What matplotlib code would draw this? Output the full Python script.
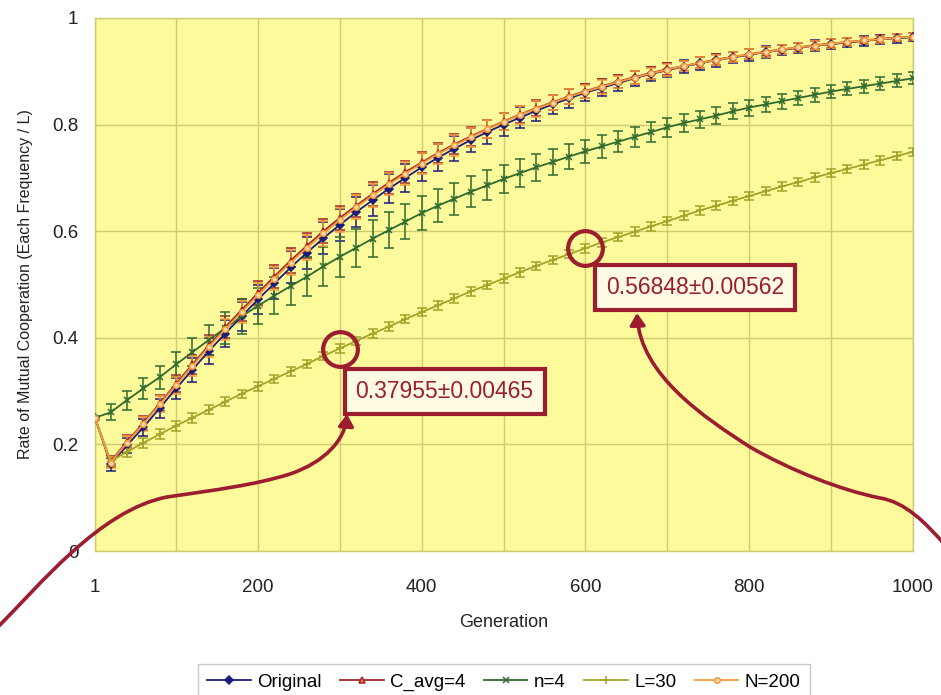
"""
Rate of mutual cooperation over generations, with error bars and two callouts.
"""

import matplotlib.pyplot as plt
from matplotlib.path import Path
from matplotlib.patches import FancyArrowPatch
from matplotlib.lines import Line2D

plt.rcParams["font.family"] = ["Liberation Sans", "DejaVu Sans"]

W, H = 941, 695

# generations sampled: 1, 20, 40, ..., 1000
GENERATIONS = [1] + list(range(20, 1001, 20))

ORIGINAL = [0.250,
            0.163, 0.198, 0.232, 0.268, 0.305, 0.340, 0.375, 0.408, 0.440, 0.472,
            0.502, 0.532, 0.560, 0.587, 0.612, 0.636, 0.658, 0.680, 0.700, 0.720,
            0.738, 0.755, 0.771, 0.786, 0.800, 0.813, 0.826, 0.838, 0.849, 0.860,
            0.869, 0.878, 0.887, 0.895, 0.902, 0.909, 0.915, 0.921, 0.926, 0.931,
            0.936, 0.940, 0.944, 0.948, 0.951, 0.954, 0.957, 0.960, 0.962, 0.964]
ORIGINAL_ERR = [0.004,
                0.012, 0.014, 0.016, 0.018, 0.020, 0.022, 0.024, 0.026, 0.027, 0.028,
                0.029, 0.030, 0.030, 0.030, 0.030, 0.029, 0.029, 0.028, 0.027, 0.026,
                0.025, 0.024, 0.023, 0.022, 0.021, 0.020, 0.019, 0.018, 0.017, 0.016,
                0.016, 0.015, 0.014, 0.014, 0.013, 0.013, 0.012, 0.012, 0.011, 0.011,
                0.011, 0.010, 0.010, 0.010, 0.009, 0.009, 0.009, 0.009, 0.008, 0.008]

C_AVG4 = [0.250,
          0.168, 0.205, 0.240, 0.277, 0.314, 0.350, 0.386, 0.420, 0.452, 0.484,
          0.515, 0.545, 0.573, 0.600, 0.625, 0.648, 0.670, 0.691, 0.711, 0.729,
          0.747, 0.763, 0.778, 0.792, 0.806, 0.819, 0.831, 0.842, 0.853, 0.863,
          0.872, 0.881, 0.889, 0.897, 0.904, 0.910, 0.916, 0.922, 0.927, 0.932,
          0.937, 0.941, 0.945, 0.949, 0.952, 0.955, 0.958, 0.961, 0.963, 0.965]
C_AVG4_ERR = [0.004,
              0.010, 0.012, 0.013, 0.015, 0.016, 0.018, 0.019, 0.020, 0.021, 0.022,
              0.022, 0.023, 0.023, 0.023, 0.023, 0.022, 0.022, 0.021, 0.021, 0.020,
              0.019, 0.019, 0.018, 0.017, 0.016, 0.016, 0.015, 0.014, 0.014, 0.013,
              0.013, 0.012, 0.012, 0.011, 0.011, 0.010, 0.010, 0.010, 0.009, 0.009,
              0.009, 0.008, 0.008, 0.008, 0.008, 0.007, 0.007, 0.007, 0.007, 0.007]

N4 = [0.250,
      0.260, 0.283, 0.305, 0.326, 0.350, 0.373, 0.396, 0.418, 0.440, 0.460,
      0.479, 0.497, 0.515, 0.534, 0.552, 0.569, 0.586, 0.602, 0.618, 0.634,
      0.648, 0.661, 0.674, 0.686, 0.698, 0.709, 0.720, 0.730, 0.740, 0.750,
      0.759, 0.768, 0.777, 0.786, 0.795, 0.803, 0.810, 0.817, 0.825, 0.832,
      0.838, 0.844, 0.850, 0.856, 0.862, 0.867, 0.872, 0.877, 0.882, 0.887]
N4_ERR = [0.004,
          0.015, 0.018, 0.020, 0.022, 0.024, 0.026, 0.028, 0.030, 0.032, 0.034,
          0.035, 0.036, 0.037, 0.037, 0.037, 0.036, 0.035, 0.034, 0.033, 0.032,
          0.031, 0.030, 0.029, 0.028, 0.027, 0.026, 0.025, 0.024, 0.023, 0.022,
          0.021, 0.020, 0.019, 0.018, 0.018, 0.017, 0.016, 0.016, 0.015, 0.015,
          0.014, 0.014, 0.013, 0.013, 0.013, 0.012, 0.012, 0.012, 0.012, 0.011]

L30 = [0.250,
       0.168, 0.186, 0.203, 0.219, 0.235, 0.250, 0.265, 0.280, 0.295, 0.309,
       0.323, 0.337, 0.351, 0.366, 0.380, 0.394, 0.408, 0.421, 0.435, 0.448,
       0.461, 0.474, 0.487, 0.499, 0.511, 0.523, 0.535, 0.546, 0.557, 0.568,
       0.579, 0.589, 0.599, 0.609, 0.619, 0.629, 0.639, 0.648, 0.657, 0.666,
       0.675, 0.684, 0.692, 0.701, 0.709, 0.717, 0.725, 0.733, 0.741, 0.749]
L30_ERR = [0.004,
           0.009, 0.009, 0.009, 0.009, 0.009, 0.009, 0.008, 0.008, 0.008, 0.008,
           0.008, 0.008, 0.008, 0.008, 0.008, 0.008, 0.008, 0.008, 0.008, 0.008,
           0.008, 0.008, 0.008, 0.008, 0.008, 0.008, 0.008, 0.008, 0.008, 0.008,
           0.008, 0.008, 0.008, 0.008, 0.008, 0.008, 0.008, 0.008, 0.008, 0.008,
           0.008, 0.008, 0.008, 0.008, 0.008, 0.008, 0.008, 0.008, 0.008, 0.008]

N200 = [0.250,
        0.166, 0.203, 0.238, 0.275, 0.311, 0.347, 0.383, 0.416, 0.448, 0.480,
        0.511, 0.541, 0.569, 0.596, 0.621, 0.645, 0.667, 0.688, 0.708, 0.727,
        0.745, 0.761, 0.776, 0.791, 0.805, 0.818, 0.830, 0.841, 0.852, 0.862,
        0.871, 0.880, 0.888, 0.896, 0.903, 0.910, 0.916, 0.921, 0.927, 0.932,
        0.936, 0.941, 0.945, 0.948, 0.952, 0.955, 0.958, 0.960, 0.963, 0.965]
N200_ERR = C_AVG4_ERR

SERIES = [
    ("Original", ORIGINAL, ORIGINAL_ERR, "#1c1c7a", "D", "#1c1c7a", 4),
    ("C_avg=4", C_AVG4, C_AVG4_ERR, "#a8242c", "^", "#f08a50", 5),
    ("n=4", N4, N4_ERR, "#2f6a2f", "x", "#2f6a2f", 5),
    ("L=30", L30, L30_ERR, "#a3a32a", "+", "#a3a32a", 6),
    ("N=200", N200, N200_ERR, "#f39a3c", "o", "#ffd9a8", 4),
]

CALLOUTS = [(300, 0.37955, "0.37955\u00b10.00465", 428, 0.299),
            (600, 0.56848, "0.56848\u00b10.00562", 734, 0.494)]

MAROON = "#9c1c30"
YELLOW = "#fdfa9c"
GRID = "#cfcb72"


def px(x, y):
    """pixel (top-left origin) -> figure fraction"""
    return (x / W, 1 - y / H)


fig = plt.figure(figsize=(W / 100, H / 100), dpi=100)
ax = fig.add_axes([95 / W, 1 - 551 / H, 818 / W, 533 / H])
ax.set_facecolor(YELLOW)

handles = []
for label, vals, err, col, mk, fc, ms in SERIES:
    ax.errorbar(GENERATIONS, vals, yerr=err, color=col, ecolor=col, elinewidth=1.1,
                capsize=3.5, capthick=1.1, marker=mk, markersize=ms, markerfacecolor=fc,
                markeredgecolor=col, markeredgewidth=1.1, linewidth=1.3, zorder=3)
    handles.append(Line2D([], [], color=col, marker=mk, markersize=ms, markerfacecolor=fc,
                          markeredgecolor=col, markeredgewidth=1.1, linewidth=1.3,
                          label=label))

ax.set_xlim(1, 1000)
ax.set_ylim(0, 1)
ax.set_xticks([1, 200, 400, 600, 800, 1000])
ax.set_xticks([100, 300, 500, 700, 900], minor=True)
ax.set_yticks([0, 0.2, 0.4, 0.6, 0.8, 1])
ax.set_yticklabels(["0", "0.2", "0.4", "0.6", "0.8", "1"])
ax.grid(True, which="both", color=GRID, linewidth=1.0, zorder=0)
ax.set_axisbelow(True)
ax.tick_params(which="both", length=0, labelsize=13.5, colors="#222222")
ax.tick_params(axis="x", pad=20)
ax.tick_params(axis="y", pad=12)
for s in ax.spines.values():
    s.set_color(GRID)
    s.set_linewidth(1.0)

ax.set_xlabel("Generation", fontsize=13, labelpad=13, color="#222222")
ax.set_ylabel("Rate of Mutual Cooperation (Each Frequency / L)", fontsize=11.5, labelpad=14,
              color="#222222")

# callouts
for gx, gy, txt, tx, ty in CALLOUTS:
    ax.plot([gx], [gy], marker="o", markersize=25, markerfacecolor="none",
            markeredgecolor=MAROON, markeredgewidth=3, zorder=5)
    ax.text(tx, ty, txt, fontsize=16.5, color=MAROON, ha="center", va="center", zorder=6,
            bbox=dict(boxstyle="square,pad=0.48", facecolor="#fffbe3", edgecolor=MAROON,
                      linewidth=3))

# curved arrows (drawn in figure space, extend past the plot area)
arrow1 = [(-5, 630), (40, 585), (100, 510), (167, 497),
          (215, 490), (255, 485), (290, 474),
          (325, 462), (345, 440), (347, 414)]
arrow2 = [(945, 545), (925, 522), (905, 502), (880, 498),
          (840, 490), (790, 470), (750, 447),
          (705, 418), (640, 375), (637, 313)]
codes = [Path.MOVETO] + [Path.CURVE4] * 9
for pts in (arrow1, arrow2):
    path = Path([px(*p) for p in pts], codes)
    arr = FancyArrowPatch(path=path, arrowstyle="-|>,head_length=7,head_width=4.5",
                          color=MAROON, linewidth=2.6, transform=fig.transFigure,
                          zorder=7)
    fig.add_artist(arr)

leg = fig.legend(handles=handles, loc="upper center", bbox_to_anchor=(504 / W, 1 - 655 / H),
                 ncol=5, fontsize=13.5, frameon=True, fancybox=False, handlelength=2.3,
                 columnspacing=1.0, handletextpad=0.35, borderpad=0.5)
leg.get_frame().set_edgecolor("#bbbbbb")
leg.get_frame().set_linewidth(1.0)

fig.savefig("out.png", dpi=100)
